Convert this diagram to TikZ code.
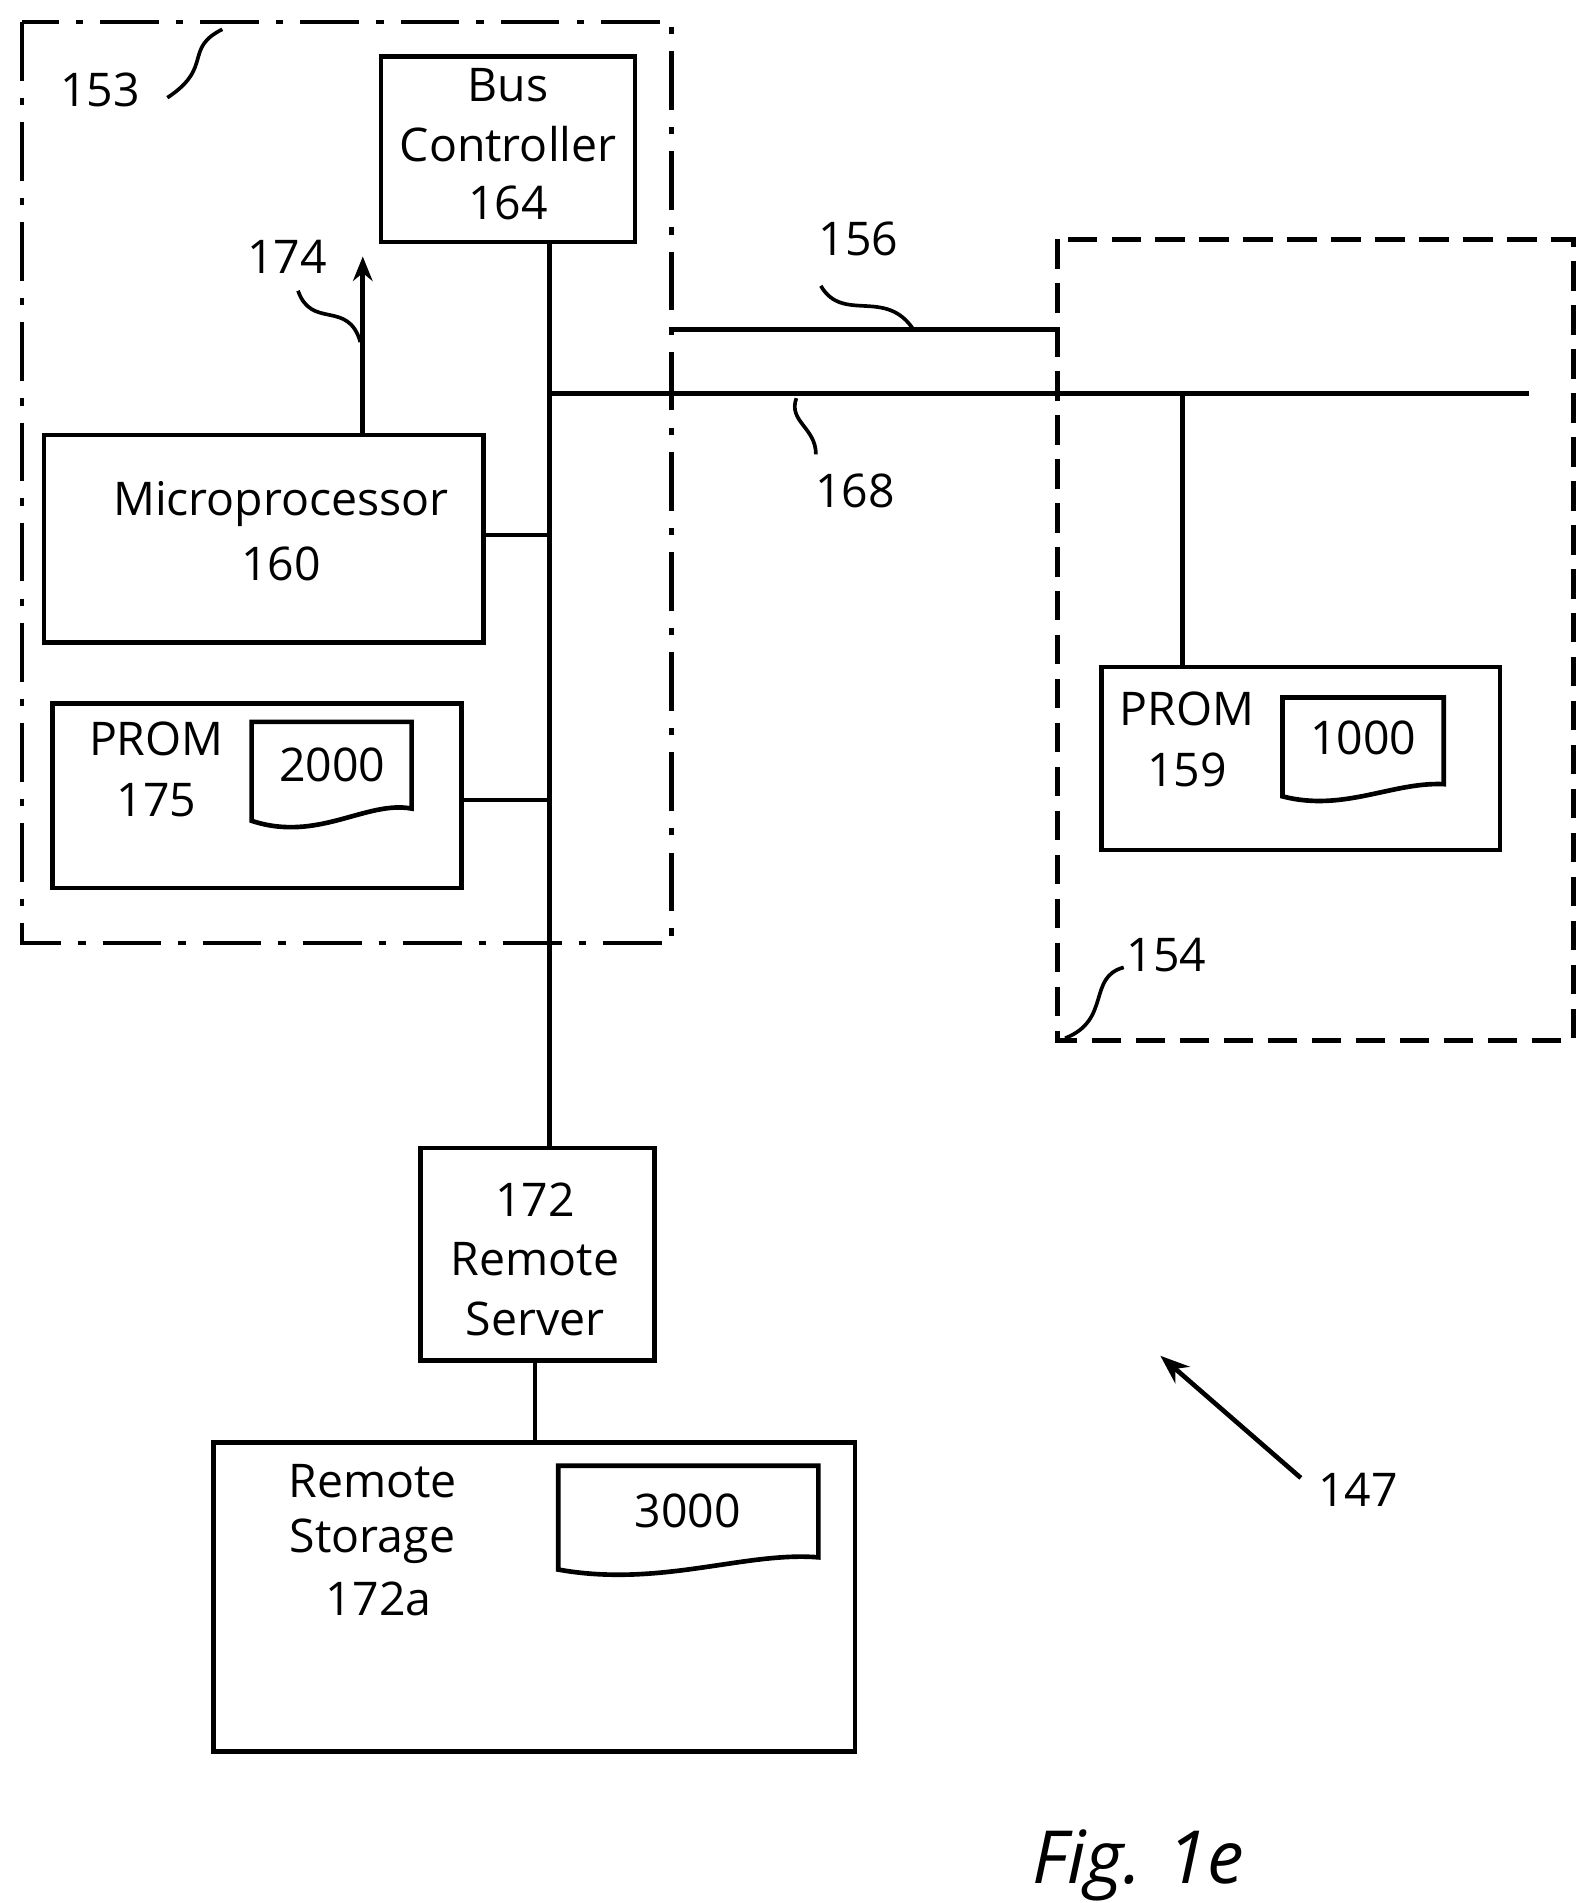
\documentclass[tikz,border=0pt]{standalone}
\usepackage{fontspec}
\setmainfont{Open Sans}
\usetikzlibrary{arrows.meta}
\begin{document}
\begin{tikzpicture}[x=0.5pt,y=-0.5pt,line width=1.9pt,
 box/.style={draw,line width=1.9pt},
 t/.style={font=\fontsize{19}{22}\selectfont,inner sep=0pt},
 sq/.style={line width=1.5pt}]
\useasboundingbox (0,0) rectangle (1300,1558);
% frames
\draw[dash pattern=on 24pt off 7pt on 3pt off 7pt] (18,18) rectangle (550,772);
\draw[dash pattern=on 12pt off 6pt] (866,196) rectangle (1288,852);
% boxes
\node[box,minimum width=104pt,minimum height=76pt] (bc) at (416,122) {};
\node[t] at (416,70) {Bus}; \node[t] at (416,118) {Controller}; \node[t] at (416,166) {164};
\node[box,minimum width=180pt,minimum height=85pt] (mp) at (216,441) {};
\node[t] at (230,413) {Microprocessor}; \node[t] at (230,462) {160};
\node[box,minimum width=167.5pt,minimum height=75.5pt] (p175) at (210.5,651.5) {};
\node[t] at (128,605) {PROM}; \node[t] at (128,655) {175};
\draw (206,591)--(337,591)--(337,662) .. controls (300,655) and (260,690) .. (206,672) -- cycle;
\node[t] at (272,626) {2000};
\node[box,minimum width=163pt,minimum height=75pt] (p159) at (1065,621) {};
\node[t] at (972,580) {PROM}; \node[t] at (972,630) {159};
\draw (1050,571)--(1182,571)--(1182,642) .. controls (1140,640) and (1100,665) .. (1050,652) -- cycle;
\node[t] at (1116,604) {1000};
\node[box,minimum width=96pt,minimum height=87pt] (rs) at (440,1027) {};
\node[t] at (438,982) {172}; \node[t] at (438,1031) {Remote}; \node[t] at (438,1080) {Server};
\node[box,minimum width=262.5pt,minimum height=126.5pt] (st) at (437.5,1307.5) {};
\node[t] at (305,1213) {Remote}; \node[t] at (305,1262) {Storage}; \node[t] at (310,1309) {172a};
\draw (457,1200)--(670,1200)--(670,1275) .. controls (610,1270) and (540,1300) .. (457,1285) -- cycle;
\node[t] at (563,1237) {3000};
% connectors
\coordinate (bt) at (450,198); \coordinate (bb) at (450,940);
\draw (bt)--(bb);
\coordinate (m1) at (450,438); \draw (396,438)--(m1);
\coordinate (m2) at (450,655); \draw (378,655)--(m2);
\coordinate (l1) at (450,322); \coordinate (l2) at (1252,322); \draw (l1)--(l2);
\coordinate (j) at (968,322); \draw (j)--(968,546);
\coordinate (a1) at (548,270); \coordinate (a2) at (866,270); \draw (a1)--(a2);
\draw[-{Stealth[length=10pt,width=8pt]}] (297,356)--(297,210);
\draw (438,1114)--(438,1181);
\draw[-{Stealth[length=12pt,width=9pt]}] (1065,1210)--(950,1110);
% labels
\node[t] at (82,74) {153};
\draw[sq] (137,80) .. controls (175,55) and (150,40) .. (182,24);
\node[t] at (235,210) {174};
\draw[sq] (244,238) .. controls (255,270) and (285,245) .. (295,280);
\node[t] at (703,196) {156};
\draw[sq] (672,234) .. controls (690,265) and (725,235) .. (748,270);
\node[t] at (700,402) {168};
\draw[sq] (652,326) .. controls (645,345) and (668,350) .. (668,372);
\node[t] at (955,782) {154};
\draw[sq] (872,850) .. controls (910,835) and (890,800) .. (920,792);
\node[t] at (1112,1220) {147};
\node[font=\fontsize{30}{34}\selectfont\itshape,inner sep=0pt] at (932,1527) {Fig. 1e};
\end{tikzpicture}
\end{document}
